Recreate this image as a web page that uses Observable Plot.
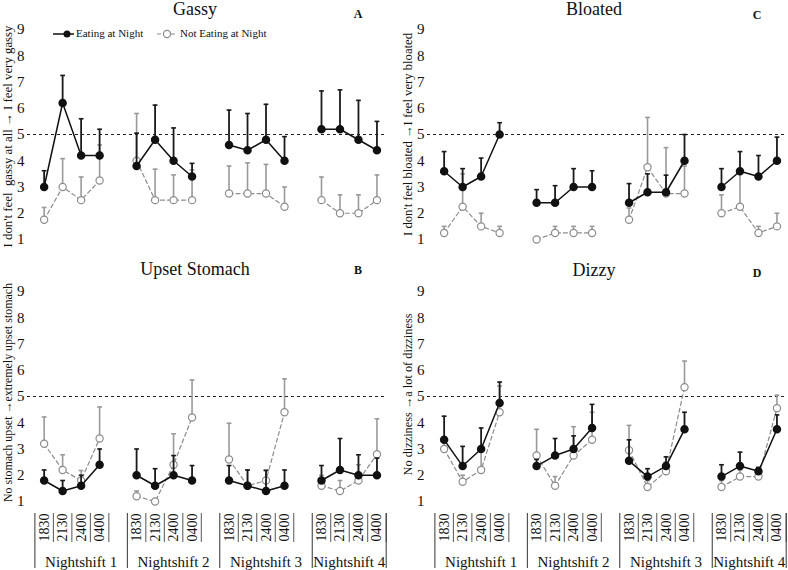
<!DOCTYPE html>
<html>
<head>
<meta charset="utf-8">
<script src="https://cdn.jsdelivr.net/npm/d3@7"></script>
<script src="https://cdn.jsdelivr.net/npm/@observablehq/plot@0.6"></script>
<style>
  body { margin: 0; background: #fff; }
  #wrap { position: relative; width: 788px; height: 570px; overflow: hidden; background: #fff;
          font-family: "Liberation Serif", "Times New Roman", serif; color: #111; }
  .panel { position: absolute; }
  .title { position: absolute; font-size: 18px; line-height: 1.1; transform: translateX(-50%); white-space: nowrap; }
  .letter { position: absolute; font-size: 12px; font-weight: bold; line-height: 1; transform: translateX(-50%); }
  .leg { position: absolute; font-size: 11px; line-height: 1; white-space: nowrap; }
  .legsw { position: absolute; }
</style>
</head>
<body>
<div id="wrap"></div>
<script>
// ---- data ----
const times = ["1830", "2130", "2400", "0400"];
const shifts = ["Nightshift 1", "Nightshift 2", "Nightshift 3", "Nightshift 4"];
const yTicks = [1, 2, 3, 4, 5, 6, 7, 8, 9];
const refValue = [5];
const seriesNames = ["Eating at Night", "Not Eating at Night"];

// Gassy (A)
const gassyEat    = [3.0, 6.2, 4.2, 4.2,  3.8, 4.8, 4.0, 3.4,  4.6, 4.4, 4.8, 4.0,  5.2, 5.2, 4.8, 4.4];
const gassyEatUp  = [3.62, 7.25, 5.6, 5.2,  5.05, 6.12, 5.25, 3.9,  5.93, 5.8, 6.15, 4.92,  6.66, 6.7, 6.3, 5.5];
const gassyNot    = [1.75, 3.0, 2.5, 3.25,  4.0, 2.5, 2.5, 2.5,  2.75, 2.75, 2.75, 2.25,  2.5, 2.0, 2.0, 2.5];
const gassyNotUp  = [2.22, 4.08, 3.38, 4.6,  5.8, 3.68, 3.46, 3.65,  3.8, 3.92, 3.86, 3.0,  3.38, 2.7, 2.7, 3.46];

// Bloated (C)
const bloatEat    = [3.6, 3.0, 3.4, 5.0,  2.4, 2.4, 3.0, 3.0,  2.4, 2.8, 2.8, 4.0,  3.0, 3.6, 3.4, 4.0];
const bloatEatUp  = [4.35, 3.7, 4.1, 5.45,  2.9, 3.05, 3.7, 3.62,  3.13, 3.5, 3.45, 5.0,  3.7, 4.35, 4.2, 4.9];
const bloatNot    = [1.25, 2.25, 1.5, 1.25,  1.0, 1.25, 1.25, 1.25,  1.75, 3.75, 2.75, 2.75,  2.0, 2.25, 1.25, 1.5];
const bloatNotUp  = [1.5, 3.5, 2.0, 1.5,  1.0, 1.5, 1.5, 1.5,  2.2, 5.65, 4.5, 3.8,  2.7, 3.6, 1.5, 2.0];

// Upset Stomach (B)
const upsetEat    = [1.8, 1.4, 1.6, 2.4,  2.0, 1.6, 2.0, 1.8,  1.8, 1.6, 1.4, 1.6,  1.8, 2.2, 2.0, 2.0];
const upsetEatUp  = [2.2, 1.8, 2.0, 3.0,  3.0, 2.25, 2.75, 2.37,  2.37, 2.2, 2.18, 2.2,  2.37, 3.4, 2.78, 2.65];
const upsetNot    = [3.2, 2.2, 1.8, 3.4,  1.2, 1.0, 2.4, 4.2,  2.6, 1.6, 1.8, 4.4,  1.6, 1.4, 1.8, 2.8];
const upsetNotUp  = [4.22, 2.78, 2.18, 4.6,  1.4, 1.0, 3.58, 5.63,  3.98, 2.2, 2.2, 5.67,  2.0, 1.8, 2.4, 4.15];

// Dizzy (D)
const dizzyEat    = [3.35, 2.35, 3.0, 4.75,  2.35, 2.75, 3.0, 3.8,  2.55, 1.95, 2.35, 3.75,  1.95, 2.35, 2.15, 3.75];
const dizzyEatUp  = [4.25, 3.1, 3.8, 5.55,  2.6, 3.4, 3.5, 4.7,  3.35, 2.25, 2.7, 4.4,  2.4, 2.88, 2.3, 4.3];
const dizzyNot    = [3.0, 1.75, 2.2, 4.4,  2.75, 1.6, 2.75, 3.35,  2.95, 1.55, 2.15, 5.35,  1.55, 1.95, 1.95, 4.55];
const dizzyNotUp  = [3.3, 2.0, 3.0, 5.4,  3.75, 1.95, 3.85, 4.4,  3.9, 1.8, 2.5, 6.35,  1.8, 2.2, 2.25, 5.05];

// ---- layout ----
const panels = [
  {title: "Gassy", letter: "A", ylabel: "I don't feel  gassy at all \u2192 I feel very gassy", ylen: 222, ydy: 2,
   eat: gassyEat, eatUp: gassyEatUp, no: gassyNot, noUp: gassyNotUp, left: 0, top: 0, width: 394, axis: false,
   tx: 195, ty: 0, lx: 358, ly: 8, legend: true},
  {title: "Bloated", letter: "C", ylabel: "I don't feel bloated \u2192I feel very bloated", ylen: 203, ydy: 0,
   eat: bloatEat, eatUp: bloatEatUp, no: bloatNot, noUp: bloatNotUp, left: 400, top: 0, width: 388, axis: false,
   tx: 594, ty: 0, lx: 757, ly: 9},
  {title: "Upset Stomach", letter: "B", ylabel: "No stomach upset \u2192extremely upset stomach", ylen: 219, ydy: -4,
   eat: upsetEat, eatUp: upsetEatUp, no: upsetNot, noUp: upsetNotUp, left: 0, top: 262, width: 394, axis: true,
   tx: 195, ty: 260, lx: 358, ly: 264},
  {title: "Dizzy", letter: "D", ylabel: "No dizziness \u2192a lot of dizziness", ylen: 162, ydy: -2,
   eat: dizzyEat, eatUp: dizzyEatUp, no: dizzyNot, noUp: dizzyNotUp, left: 400, top: 262, width: 388, axis: true,
   tx: 594, ty: 261, lx: 757, ly: 267}
];

const wrap = document.getElementById("wrap");
const FONT = "'Liberation Serif', 'Times New Roman', serif";

function makeRows(p) {
  const rows = [];
  shifts.forEach((s, i) => times.forEach((t, j) => {
    const k = i * 4 + j;
    rows.push({pos: i * 5 + j, shift: s, time: t, eat: p.eat[k], eatUp: p.eatUp[k], no: p.no[k], noUp: p.noUp[k]});
  }));
  return rows;
}

panels.forEach(p => {
  const rows = makeRows(p);
  const H = p.axis ? 308 : 262;
  const plotRight = 385.7;
  const cap = 0.13;
  const marks = [
    Plot.ruleY(refValue, {stroke: "#222", strokeWidth: 1, strokeDasharray: "3,3"}),
    // not eating (grey, dashed)
    Plot.ruleX(rows, {x: "pos", y1: "no", y2: "noUp", stroke: "#9a9a9a", strokeWidth: 1.6}),
    Plot.link(rows, {x1: d => d.pos - cap, x2: d => d.pos + cap, y1: "noUp", y2: "noUp", stroke: "#9a9a9a", strokeWidth: 1.6}),
    Plot.line(rows, {x: "pos", y: "no", z: "shift", stroke: "#8c8c8c", strokeWidth: 1.2, strokeDasharray: "4,3"}),
    Plot.dot(rows, {x: "pos", y: "no", r: 3.6, fill: "white", stroke: "#8c8c8c", strokeWidth: 1.2}),
    // eating (black, solid)
    Plot.ruleX(rows, {x: "pos", y1: "eat", y2: "eatUp", stroke: "#1a1a1a", strokeWidth: 1.8}),
    Plot.link(rows, {x1: d => d.pos - cap, x2: d => d.pos + cap, y1: "eatUp", y2: "eatUp", stroke: "#1a1a1a", strokeWidth: 1.6}),
    Plot.line(rows, {x: "pos", y: "eat", z: "shift", stroke: "#111", strokeWidth: 1.5}),
    Plot.dot(rows, {x: "pos", y: "eat", r: 3.5, fill: "#111", stroke: "#111"}),
    Plot.axisY({ticks: yTicks, tickSize: 0, tickPadding: 3, fontSize: 15, label: null, tickFormat: d => String(d)}),
    Plot.text([p.ylabel], {frameAnchor: "left", rotate: -90, dx: -20, dy: p.ydy, fontSize: 12.5, textAnchor: "middle", lineAnchor: "middle", fill: "#111", className: "ylab"})
  ];
  if (p.axis) {
    const shortSeps = [];
    const fullSeps = [];
    shifts.forEach((s, i) => {
      fullSeps.push(i * 5 - 0.5);
      times.forEach((t, j) => shortSeps.push(i * 5 + j + 0.5));
    });
    fullSeps.push((shifts.length - 1) * 5 + times.length - 0.5);
    const groups = shifts.map((s, i) => {
      const a = i * 5 - 0.5;
      const b = Math.min(i * 5 + 4.5, (shifts.length - 1) * 5 + times.length - 0.5);
      return {label: s, center: (a + b) / 2};
    });
    marks.push(
      Plot.ruleX(shortSeps, {x: d => d, stroke: "#555", strokeWidth: 1, insetTop: 222, insetBottom: -41}),
      Plot.ruleX(fullSeps, {x: d => d, stroke: "#333", strokeWidth: 1, insetTop: 222, insetBottom: -67}),
      Plot.text(rows, {x: "pos", text: "time", frameAnchor: "bottom", rotate: -90, dy: 26, fontSize: 14, textAnchor: "middle", lineAnchor: "middle", fill: "#111"}),
      Plot.text(groups, {x: "center", text: "label", frameAnchor: "bottom", dy: 61, fontSize: 15, textAnchor: "middle", lineAnchor: "middle", fill: "#111"})
    );
  }
  const chart = Plot.plot({
    width: p.width, height: H,
    marginLeft: 27, marginRight: p.width - plotRight, marginTop: 29, marginBottom: H - 239,
    x: {domain: [-0.9, 18.5], axis: null},
    y: {domain: [1, 9]},
    style: {fontFamily: FONT, background: "transparent", color: "#111", overflow: "visible"},
    marks
  });
  chart.querySelectorAll(".ylab text").forEach(el => {
    el.setAttribute("textLength", p.ylen);
    el.setAttribute("lengthAdjust", "spacingAndGlyphs");
  });
  chart.classList.add("panel");
  chart.style.left = p.left + "px";
  chart.style.top = p.top + "px";
  wrap.appendChild(chart);

  const t = document.createElement("div");
  t.className = "title";
  t.textContent = p.title;
  t.style.left = p.tx + "px";
  t.style.top = p.ty + "px";
  wrap.appendChild(t);

  const l = document.createElement("div");
  l.className = "letter";
  l.textContent = p.letter;
  l.style.left = p.lx + "px";
  l.style.top = p.ly + "px";
  wrap.appendChild(l);

  if (p.legend) {
    const sw1 = document.createElementNS("http://www.w3.org/2000/svg", "svg");
    sw1.setAttribute("class", "legsw");
    sw1.setAttribute("width", "24"); sw1.setAttribute("height", "12");
    sw1.style.left = "52px"; sw1.style.top = "28px";
    sw1.innerHTML = '<line x1="1" y1="6" x2="22" y2="6" stroke="#111" stroke-width="1.5"/><circle cx="15" cy="6" r="3.5" fill="#111"/>';
    wrap.appendChild(sw1);
    const t1 = document.createElement("div");
    t1.className = "leg"; t1.textContent = seriesNames[0];
    t1.style.left = "76px"; t1.style.top = "28px";
    wrap.appendChild(t1);
    const sw2 = document.createElementNS("http://www.w3.org/2000/svg", "svg");
    sw2.setAttribute("class", "legsw");
    sw2.setAttribute("width", "24"); sw2.setAttribute("height", "12");
    sw2.style.left = "156px"; sw2.style.top = "28px";
    sw2.innerHTML = '<line x1="1" y1="6" x2="22" y2="6" stroke="#8c8c8c" stroke-width="1.2" stroke-dasharray="4,3"/><circle cx="11" cy="6" r="3.6" fill="white" stroke="#8c8c8c" stroke-width="1.2"/>';
    wrap.appendChild(sw2);
    const t2 = document.createElement("div");
    t2.className = "leg"; t2.textContent = seriesNames[1];
    t2.style.left = "180px"; t2.style.top = "28px";
    wrap.appendChild(t2);
  }
});
</script>
</body>
</html>
